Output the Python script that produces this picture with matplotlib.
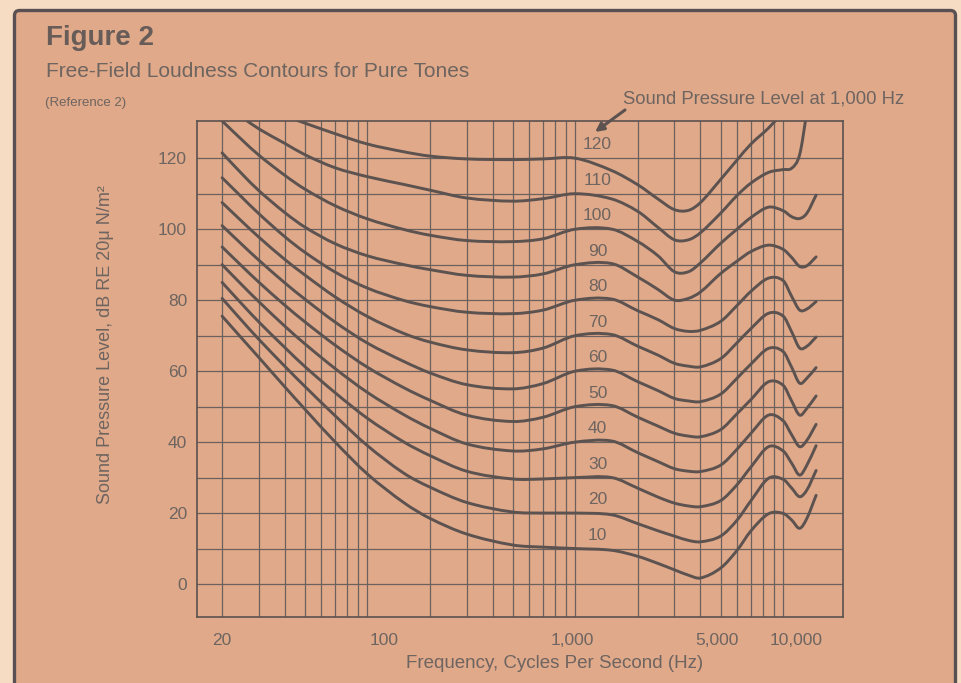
import numpy as np
import matplotlib
matplotlib.use('Agg')
import matplotlib.pyplot as plt
from matplotlib.patches import FancyBboxPatch, PathPatch
from matplotlib.path import Path
from matplotlib.transforms import IdentityTransform, ScaledTranslation

plt.rcParams['font.family'] = ['Liberation Sans', 'DejaVu Sans']

nan = np.nan

# frequency points (Hz) where the contours were read
freqs = [20, 25, 30, 40, 50, 70, 100, 150, 200, 300, 500, 700, 1000, 1500,
         2000, 2500, 3000, 3500, 4000, 5000, 6000, 7000, 8500, 10000, 11000,
         12000, 13000, 14400]

# sound pressure level (dB) of each loudness contour
spl_10 = [75.5, 69.1, 63.9, 55.6, 49.3, 40.0, 31.0, 22.9, 18.5, 14.1, 11.0, 10.4, 10, 9.5,
          7.8, 5.8, 4, 2.5, 1.7, 4.5, 9.5, 15, 19.8, 19.9, 18, 15.7, 18.5, 25]
spl_20 = [80.5, 74.1, 69.0, 61.4, 55.7, 47.4, 39.0, 31.2, 27.3, 23.0, 20.3, 20.0, 20, 19.5,
          17, 15, 13.5, 12.3, 11.9, 13.5, 18, 23.5, 29.8, 29.5, 27, 24.6, 26.5, 32]
spl_30 = [85, 78.8, 73.9, 66.7, 61.3, 53.9, 46.7, 40.0, 36.2, 31.8, 29.6, 29.6, 30, 30,
          27, 24.5, 22.8, 22, 21.8, 23.5, 28, 33, 38.7, 37.5, 34, 30.7, 33.5, 39]
spl_40 = [90, 84.2, 79.6, 72.7, 67.7, 60.7, 54.0, 47.7, 43.9, 39.5, 37.5, 38.1, 40, 40.3,
          37, 34.5, 32.5, 31.8, 31.7, 33.5, 38, 42.5, 47.6, 46, 42, 38.7, 40.5, 45]
spl_50 = [95, 89.5, 85.1, 78.6, 73.9, 67.3, 61.1, 55.3, 51.8, 47.6, 45.8, 47.0, 50, 50.3,
          47, 44.5, 42.5, 41.7, 41.5, 43.5, 48, 52, 57, 56, 51.5, 47.6, 49.5, 53]
spl_60 = [101, 95.6, 91.3, 84.9, 80.3, 73.8, 67.9, 62.7, 59.5, 56.2, 55.0, 56.5, 60, 60.3,
          57, 54.5, 52.3, 51.6, 51.4, 53.5, 58, 62, 66.4, 65.5, 61, 56.6, 58, 61]
spl_70 = [107.5, 102.1, 97.8, 91.5, 87.1, 80.9, 75.4, 70.6, 68.2, 66.0, 65.2, 66.5, 70, 70.3,
          67, 64.5, 62.2, 61.4, 61.2, 63.5, 68, 72, 76.3, 75.5, 71, 66.5, 67, 69.6]
spl_80 = [114.5, 108.9, 104.4, 97.9, 93.5, 87.9, 83.4, 79.9, 78.2, 76.6, 76.2, 77.2, 80, 80.3,
          77, 74.5, 72, 71.2, 71.5, 74, 78.5, 82.5, 86.2, 85.5, 81, 77.2, 77.5, 79.6]
spl_90 = [121.5, 115.5, 110.9, 104.7, 100.6, 95.9, 92.5, 90.0, 88.6, 87.0, 86.5, 87.4, 90, 90.3,
          86.5, 83, 80, 80.5, 82.3, 87.5, 91, 93.7, 95.5, 94.3, 92, 89.5, 89.7, 92.2]
spl_100 = [130.5, 125.1, 120.9, 115.2, 111.3, 106.6, 102.9, 99.9, 98.3, 96.8, 96.5, 97.3, 100, 100,
           96.5, 92.5, 88, 88, 90.5, 96, 100, 103.3, 106.2, 105.2, 103.5, 103, 104.5, 109.6]
spl_110 = [nan, 131.5, 128.3, 124.2, 121.0, 117.3, 114.8, 112.6, 111.0, 108.8, 107.9, 108.6, 110, 108.5,
           105, 100.5, 97, 97, 99, 104.5, 109.5, 113, 116, 116.8, 117.2, 121, 133, nan]
spl_120 = [nan, nan, nan, 131.9, 129.9, 126.9, 124.0, 121.8, 120.6, 119.8, 119.6, 119.8, 120, 116.5,
           112.5, 108.5, 105.5, 105.3, 107.5, 114, 119.5, 124, 128.5, 133, nan, nan, nan, nan]

levels = [10, 20, 30, 40, 50, 60, 70, 80, 90, 100, 110, 120]
curves = [spl_10, spl_20, spl_30, spl_40, spl_50, spl_60, spl_70, spl_80,
          spl_90, spl_100, spl_110, spl_120]

xtick_vals = [20, 100, 1000, 5000, 10000]
xtick_text = ['20', '100', '1,000', '5,000', '10,000']
xtick_shift = [0, 17, -3, -4, 13]   # printed labels sit a bit off the grid lines
ytick_vals = [0, 20, 40, 60, 80, 100, 120]

grid_f = [20, 30, 40, 50, 60, 70, 80, 90, 100, 200, 300, 400, 500, 600, 700, 800, 900,
          1000, 2000, 3000, 4000, 5000, 6000, 7000, 8000, 9000, 10000]
grid_db = list(range(0, 121, 10))

ink = '#5c5250'
gridc = '#6c615d'
txt = '#6e6460'
paper = '#dfa98a'


def smooth_path(f, y):
    # hand-drawn look: cubic Hermite segments (in log-frequency) through the read points
    f = np.asarray(f, float)
    y = np.asarray(y, float)
    ok = ~np.isnan(y)
    u, v = np.log10(f[ok]), y[ok]
    n = len(u)
    m = np.empty(n)
    m[0] = (v[1] - v[0]) / (u[1] - u[0])
    m[-1] = (v[-1] - v[-2]) / (u[-1] - u[-2])
    m[1:-1] = (v[2:] - v[:-2]) / (u[2:] - u[:-2])
    verts = [(10 ** u[0], v[0])]
    codes = [Path.MOVETO]
    for i in range(n - 1):
        h = (u[i + 1] - u[i]) / 3
        verts += [(10 ** (u[i] + h), v[i] + m[i] * h),
                  (10 ** (u[i + 1] - h), v[i + 1] - m[i + 1] * h),
                  (10 ** u[i + 1], v[i + 1])]
        codes += [Path.CURVE4] * 3
    return Path(verts, codes)


fig = plt.figure(figsize=(9.62, 6.83), dpi=100)
fig.patch.set_facecolor('#f6dcc3')
frame = FancyBboxPatch((14.5, -20), 941, 692.5,
                       boxstyle='round,pad=0,rounding_size=5',
                       transform=IdentityTransform(), facecolor=paper,
                       edgecolor='#585052', lw=2.4, zorder=-5)
fig.add_artist(frame)

ax = fig.add_axes([0.2045, 0.0971, 0.6721, 0.7258])
ax.set_zorder(2)
ax.set_facecolor('none')
ax.set_xscale('log')
ax.set_xlim(15.1, 19460)
ax.set_ylim(-9.2, 130.5)

for lvl, spl in zip(levels, curves):
    ax.add_patch(PathPatch(smooth_path(freqs, spl), facecolor='none', edgecolor=ink,
                           lw=2.1, capstyle='round', joinstyle='round', zorder=3))
    ax.text(1280, lvl + 3.8, str(lvl), ha='center', va='center',
            fontsize=12.5, color=txt, zorder=4)

ax.set_xticks(xtick_vals)
ax.set_xticklabels(xtick_text)
ax.set_xticks(grid_f, minor=True)
ax.xaxis.set_minor_formatter(matplotlib.ticker.NullFormatter())
ax.set_yticks(ytick_vals)
ax.set_yticks(grid_db, minor=True)
ax.xaxis.remove_overlapping_locs = False
ax.yaxis.remove_overlapping_locs = False
ax.grid(False, which='major')
ax.grid(True, which='minor', color=gridc, lw=0.9)
ax.set_axisbelow(True)
ax.tick_params(which='both', length=0)
ax.tick_params(axis='x', pad=12, labelsize=12.5, labelcolor=txt)
ax.tick_params(axis='y', pad=7, labelsize=12.5, labelcolor=txt)
for lab, dx in zip(ax.get_xticklabels(), xtick_shift):
    lab.set_transform(lab.get_transform() + ScaledTranslation(dx / 100, 0, fig.dpi_scale_trans))
for s in ax.spines.values():
    s.set_color(ink)
    s.set_linewidth(1.2)

ax.set_xlabel('Frequency, Cycles Per Second (Hz)', fontsize=13.5, color=txt)
ax.xaxis.set_label_coords(0.554, -0.077)
ax.set_ylabel('Sound Pressure Level, dB RE 20\u03bc N/m\u00b2', fontsize=13, color=txt)
ax.yaxis.set_label_coords(-0.128, 0.548)

fig.text(0.048, 0.934, 'Figure 2', fontsize=20, fontweight='bold', color='#675c58', va='baseline')
fig.text(0.048, 0.8868, 'Free-Field Loudness Contours for Pure Tones', fontsize=15,
         color=txt, va='baseline')
fig.text(0.047, 0.8455, '(Reference 2)', fontsize=9.5, color=txt, va='baseline')
fig.text(0.648, 0.8488, 'Sound Pressure Level at 1,000 Hz', fontsize=13.3, color=txt,
         va='baseline')
ax.annotate('', xy=(1245, 127.4), xycoords='data', xytext=(0.6497, 0.839),
            textcoords='figure fraction', annotation_clip=False,
            arrowprops=dict(arrowstyle='-|>,head_length=0.5,head_width=0.25',
                            color=ink, lw=2.2, shrinkA=0, shrinkB=0))

fig.savefig('out.png', dpi=100, facecolor=fig.get_facecolor())
